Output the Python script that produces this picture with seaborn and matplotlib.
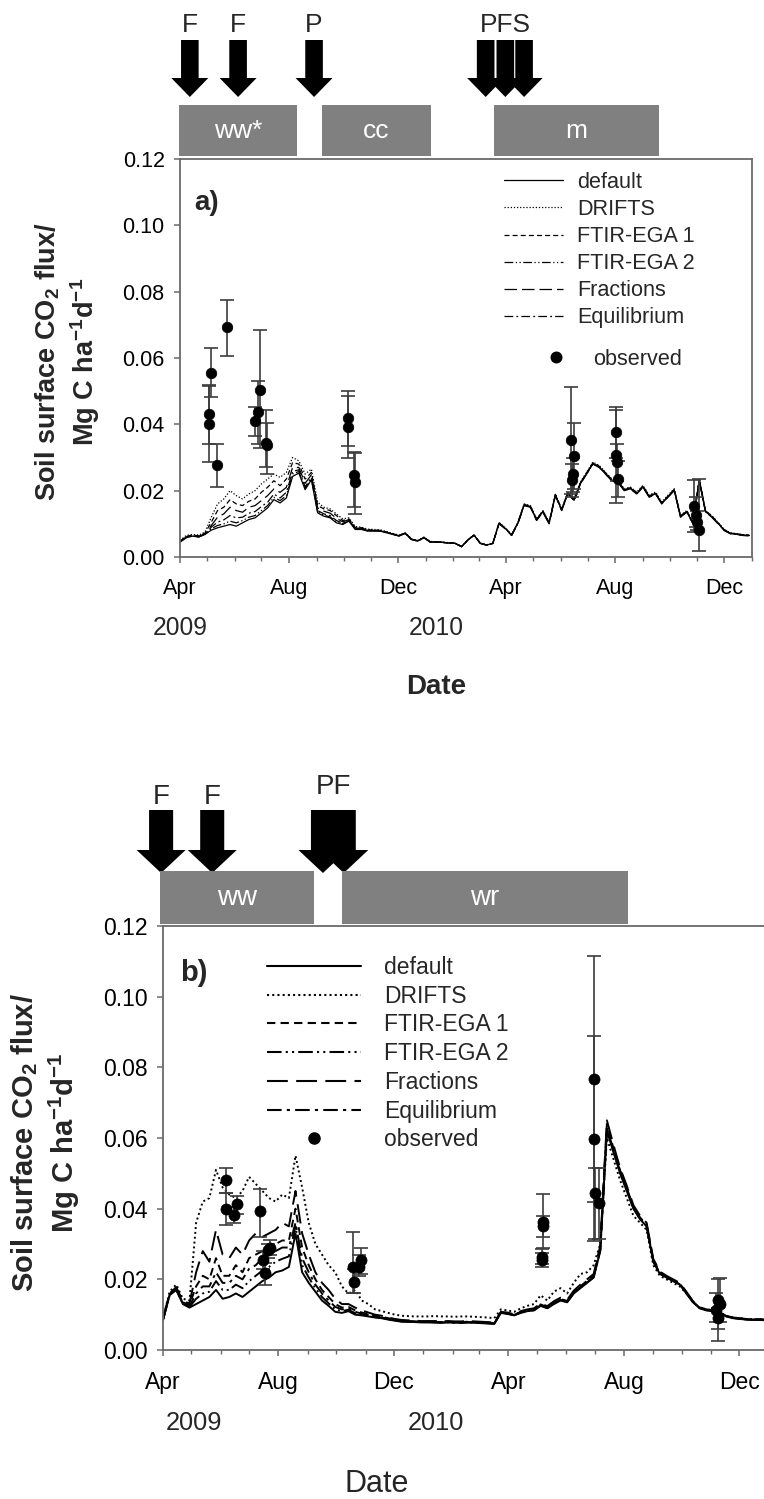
import numpy as np
import pandas as pd
import matplotlib
matplotlib.use("Agg")
import matplotlib.pyplot as plt
import matplotlib.dates as mdates
from matplotlib.patches import Rectangle, FancyArrow
from matplotlib.lines import Line2D
from matplotlib.ticker import FormatStrFormatter
import seaborn as sns

# ---------------------------------------------------------------- data
dates = pd.date_range("2009-04-01", periods=92, freq="7D")
models = ["default", "DRIFTS", "FTIR-EGA 1", "FTIR-EGA 2", "Fractions", "Equilibrium"]

a_default = [0.0045, 0.0058, 0.0063, 0.0060, 0.0068, 0.0081, 0.0088, 0.0093, 0.0098, 0.0093,
             0.0103, 0.0113, 0.0118, 0.0133, 0.0148, 0.0173, 0.0163, 0.0178, 0.0243, 0.0253,
             0.0203, 0.0233, 0.0133, 0.0123, 0.0118, 0.0103, 0.0098, 0.0108, 0.0083, 0.0083,
             0.0078, 0.0078, 0.0078, 0.0073, 0.0068, 0.0063, 0.0071, 0.0053, 0.0048, 0.0058,
             0.0045, 0.0045, 0.0044, 0.0042, 0.0041, 0.0031, 0.0051, 0.0066, 0.0041, 0.0036,
             0.0041, 0.0102, 0.0086, 0.0066, 0.0102, 0.0157, 0.0152, 0.0112, 0.0137, 0.0102,
             0.0187, 0.0142, 0.0192, 0.0172, 0.0222, 0.0252, 0.0282, 0.0272, 0.0252, 0.0232,
             0.0227, 0.0202, 0.0207, 0.0192, 0.0212, 0.0182, 0.0192, 0.0162, 0.0182, 0.0202,
             0.0122, 0.0137, 0.0102, 0.0232, 0.0137, 0.0122, 0.0102, 0.0081, 0.0071, 0.0069,
             0.0066, 0.0065]
a_drifts = [0.0050, 0.0065, 0.0068, 0.0066, 0.0075, 0.0120, 0.0160, 0.0175, 0.0200, 0.0185,
            0.0175, 0.0190, 0.0200, 0.0220, 0.0235, 0.0250, 0.0240, 0.0255, 0.0300, 0.0290,
            0.0250, 0.0265, 0.0165, 0.0150, 0.0145, 0.0130, 0.0115, 0.0118, 0.0092, 0.0090,
            0.0084, 0.0083, 0.0082, 0.0077, 0.0071, 0.0066, 0.0073, 0.0055, 0.0050, 0.0060,
            0.0047, 0.0046, 0.0045, 0.0043, 0.0042, 0.0032, 0.0052, 0.0067, 0.0042, 0.0037,
            0.0042, 0.0104, 0.0088, 0.0068, 0.0104, 0.0160, 0.0155, 0.0115, 0.0140, 0.0105,
            0.0190, 0.0145, 0.0195, 0.0176, 0.0226, 0.0256, 0.0286, 0.0276, 0.0256, 0.0236,
            0.0231, 0.0206, 0.0211, 0.0196, 0.0216, 0.0186, 0.0196, 0.0166, 0.0186, 0.0206,
            0.0125, 0.0140, 0.0105, 0.0236, 0.0140, 0.0125, 0.0104, 0.0083, 0.0073, 0.0070,
            0.0067, 0.0066]
a_ftir1 = [0.0048, 0.0062, 0.0066, 0.0064, 0.0072, 0.0105, 0.0140, 0.0150, 0.0173, 0.0160,
           0.0155, 0.0168, 0.0175, 0.0195, 0.0210, 0.0230, 0.0215, 0.0235, 0.0285, 0.0280,
           0.0235, 0.0255, 0.0155, 0.0145, 0.0140, 0.0125, 0.0110, 0.0115, 0.0089, 0.0088,
           0.0082, 0.0081, 0.0080, 0.0075, 0.0070, 0.0065, 0.0072, 0.0054, 0.0049, 0.0059,
           0.0046, 0.0046, 0.0044, 0.0043, 0.0041, 0.0032, 0.0051, 0.0066, 0.0042, 0.0036,
           0.0041, 0.0103, 0.0087, 0.0067, 0.0103, 0.0158, 0.0154, 0.0114, 0.0139, 0.0104,
           0.0189, 0.0144, 0.0194, 0.0174, 0.0224, 0.0254, 0.0284, 0.0274, 0.0254, 0.0234,
           0.0229, 0.0204, 0.0209, 0.0194, 0.0214, 0.0184, 0.0194, 0.0164, 0.0184, 0.0204,
           0.0124, 0.0139, 0.0104, 0.0234, 0.0139, 0.0124, 0.0103, 0.0082, 0.0072, 0.0070,
           0.0067, 0.0066]
a_ftir2 = [0.0046, 0.0059, 0.0064, 0.0061, 0.0069, 0.0085, 0.0095, 0.0100, 0.0108, 0.0103,
           0.0110, 0.0120, 0.0125, 0.0140, 0.0155, 0.0180, 0.0170, 0.0185, 0.0250, 0.0258,
           0.0207, 0.0236, 0.0136, 0.0126, 0.0121, 0.0106, 0.0100, 0.0110, 0.0085, 0.0085,
           0.0079, 0.0079, 0.0079, 0.0074, 0.0069, 0.0064, 0.0071, 0.0053, 0.0048, 0.0058,
           0.0045, 0.0045, 0.0044, 0.0042, 0.0041, 0.0031, 0.0051, 0.0066, 0.0041, 0.0036,
           0.0041, 0.0102, 0.0086, 0.0066, 0.0102, 0.0157, 0.0152, 0.0112, 0.0137, 0.0102,
           0.0187, 0.0142, 0.0192, 0.0172, 0.0222, 0.0252, 0.0282, 0.0272, 0.0252, 0.0232,
           0.0227, 0.0202, 0.0207, 0.0192, 0.0212, 0.0182, 0.0192, 0.0162, 0.0182, 0.0202,
           0.0122, 0.0137, 0.0102, 0.0232, 0.0137, 0.0122, 0.0102, 0.0081, 0.0071, 0.0069,
           0.0066, 0.0065]
a_fractions = [0.0047, 0.0060, 0.0065, 0.0062, 0.0070, 0.0095, 0.0120, 0.0130, 0.0150, 0.0140,
               0.0135, 0.0150, 0.0155, 0.0170, 0.0185, 0.0205, 0.0195, 0.0210, 0.0270, 0.0270,
               0.0222, 0.0248, 0.0148, 0.0138, 0.0132, 0.0117, 0.0106, 0.0113, 0.0087, 0.0087,
               0.0081, 0.0080, 0.0080, 0.0075, 0.0069, 0.0064, 0.0072, 0.0054, 0.0049, 0.0059,
               0.0046, 0.0045, 0.0044, 0.0043, 0.0041, 0.0031, 0.0051, 0.0066, 0.0041, 0.0036,
               0.0041, 0.0100, 0.0085, 0.0065, 0.0100, 0.0155, 0.0150, 0.0110, 0.0135, 0.0100,
               0.0185, 0.0140, 0.0190, 0.0170, 0.0220, 0.0250, 0.0280, 0.0270, 0.0250, 0.0230,
               0.0225, 0.0200, 0.0205, 0.0190, 0.0210, 0.0180, 0.0190, 0.0160, 0.0180, 0.0200,
               0.0120, 0.0135, 0.0100, 0.0230, 0.0135, 0.0120, 0.0100, 0.0080, 0.0070, 0.0068,
               0.0065, 0.0064]
a_equil = [0.0046, 0.0059, 0.0064, 0.0061, 0.0069, 0.0090, 0.0105, 0.0112, 0.0125, 0.0118,
           0.0120, 0.0132, 0.0137, 0.0152, 0.0165, 0.0190, 0.0178, 0.0195, 0.0258, 0.0263,
           0.0212, 0.0240, 0.0140, 0.0130, 0.0125, 0.0110, 0.0102, 0.0111, 0.0086, 0.0086,
           0.0080, 0.0080, 0.0079, 0.0074, 0.0069, 0.0064, 0.0071, 0.0053, 0.0048, 0.0058,
           0.0045, 0.0045, 0.0044, 0.0042, 0.0041, 0.0031, 0.0051, 0.0066, 0.0041, 0.0036,
           0.0041, 0.0101, 0.0085, 0.0065, 0.0101, 0.0156, 0.0151, 0.0111, 0.0136, 0.0101,
           0.0186, 0.0141, 0.0191, 0.0171, 0.0221, 0.0251, 0.0281, 0.0271, 0.0251, 0.0231,
           0.0226, 0.0201, 0.0206, 0.0191, 0.0211, 0.0181, 0.0191, 0.0161, 0.0181, 0.0201,
           0.0121, 0.0136, 0.0101, 0.0231, 0.0136, 0.0121, 0.0101, 0.0080, 0.0070, 0.0068,
           0.0065, 0.0064]

b_default = [0.0085, 0.0155, 0.0170, 0.0130, 0.0120, 0.0130, 0.0140, 0.0150, 0.0170, 0.0145,
             0.0150, 0.0160, 0.0150, 0.0165, 0.0180, 0.0195, 0.0205, 0.0220, 0.0225, 0.0235,
             0.0330, 0.0220, 0.0190, 0.0165, 0.0140, 0.0125, 0.0108, 0.0105, 0.0110, 0.0100,
             0.0098, 0.0095, 0.0092, 0.0090, 0.0086, 0.0083, 0.0080, 0.0080, 0.0079, 0.0078,
             0.0078, 0.0078, 0.0077, 0.0078, 0.0077, 0.0077, 0.0078, 0.0077, 0.0076, 0.0075,
             0.0074, 0.0105, 0.0102, 0.0098, 0.0105, 0.0110, 0.0112, 0.0125, 0.0118, 0.0130,
             0.0140, 0.0135, 0.0160, 0.0175, 0.0190, 0.0205, 0.0280, 0.0620, 0.0560, 0.0500,
             0.0450, 0.0400, 0.0370, 0.0350, 0.0250, 0.0215, 0.0205, 0.0195, 0.0185, 0.0160,
             0.0135, 0.0118, 0.0112, 0.0110, 0.0105, 0.0095, 0.0090, 0.0088, 0.0086, 0.0085,
             0.0085, 0.0084]
b_drifts = [0.0090, 0.0165, 0.0185, 0.0145, 0.0140, 0.0360, 0.0420, 0.0430, 0.0510, 0.0460,
            0.0440, 0.0430, 0.0450, 0.0490, 0.0470, 0.0450, 0.0430, 0.0420, 0.0440, 0.0430,
            0.0550, 0.0460, 0.0360, 0.0300, 0.0270, 0.0240, 0.0220, 0.0180, 0.0160, 0.0170,
            0.0140, 0.0130, 0.0115, 0.0110, 0.0105, 0.0100, 0.0097, 0.0096, 0.0095, 0.0095,
            0.0095, 0.0096, 0.0095, 0.0095, 0.0094, 0.0095, 0.0095, 0.0094, 0.0093, 0.0092,
            0.0090, 0.0115, 0.0112, 0.0108, 0.0118, 0.0125, 0.0130, 0.0155, 0.0140, 0.0165,
            0.0175, 0.0160, 0.0190, 0.0215, 0.0220, 0.0240, 0.0300, 0.0600, 0.0540, 0.0480,
            0.0430, 0.0380, 0.0360, 0.0340, 0.0240, 0.0210, 0.0200, 0.0190, 0.0180, 0.0160,
            0.0135, 0.0120, 0.0115, 0.0112, 0.0108, 0.0097, 0.0092, 0.0090, 0.0088, 0.0087,
            0.0087, 0.0086]
b_ftir1 = [0.0087, 0.0158, 0.0175, 0.0135, 0.0128, 0.0180, 0.0210, 0.0200, 0.0260, 0.0210,
           0.0210, 0.0240, 0.0220, 0.0260, 0.0270, 0.0280, 0.0290, 0.0300, 0.0310, 0.0310,
           0.0400, 0.0290, 0.0240, 0.0200, 0.0170, 0.0150, 0.0130, 0.0120, 0.0122, 0.0112,
           0.0106, 0.0102, 0.0097, 0.0094, 0.0090, 0.0086, 0.0083, 0.0082, 0.0081, 0.0080,
           0.0080, 0.0080, 0.0079, 0.0080, 0.0079, 0.0079, 0.0080, 0.0079, 0.0078, 0.0077,
           0.0076, 0.0107, 0.0104, 0.0100, 0.0108, 0.0113, 0.0115, 0.0129, 0.0121, 0.0134,
           0.0144, 0.0139, 0.0165, 0.0180, 0.0196, 0.0210, 0.0290, 0.0640, 0.0570, 0.0508,
           0.0458, 0.0405, 0.0375, 0.0355, 0.0255, 0.0219, 0.0208, 0.0198, 0.0188, 0.0163,
           0.0137, 0.0120, 0.0114, 0.0112, 0.0107, 0.0096, 0.0091, 0.0089, 0.0087, 0.0086,
           0.0086, 0.0085]
b_ftir2 = [0.0085, 0.0156, 0.0171, 0.0131, 0.0122, 0.0145, 0.0160, 0.0165, 0.0195, 0.0170,
           0.0170, 0.0185, 0.0175, 0.0195, 0.0210, 0.0225, 0.0235, 0.0250, 0.0258, 0.0265,
           0.0350, 0.0240, 0.0205, 0.0175, 0.0150, 0.0132, 0.0115, 0.0110, 0.0114, 0.0104,
           0.0100, 0.0097, 0.0093, 0.0091, 0.0087, 0.0084, 0.0081, 0.0080, 0.0080, 0.0079,
           0.0079, 0.0078, 0.0078, 0.0078, 0.0078, 0.0077, 0.0078, 0.0078, 0.0077, 0.0076,
           0.0075, 0.0105, 0.0103, 0.0099, 0.0106, 0.0111, 0.0113, 0.0126, 0.0119, 0.0131,
           0.0141, 0.0136, 0.0161, 0.0176, 0.0191, 0.0206, 0.0282, 0.0625, 0.0562, 0.0502,
           0.0452, 0.0402, 0.0372, 0.0351, 0.0251, 0.0216, 0.0206, 0.0196, 0.0186, 0.0161,
           0.0136, 0.0119, 0.0113, 0.0111, 0.0106, 0.0096, 0.0091, 0.0089, 0.0087, 0.0086,
           0.0085, 0.0085]
b_fractions = [0.0088, 0.0160, 0.0178, 0.0138, 0.0132, 0.0220, 0.0280, 0.0250, 0.0340, 0.0270,
               0.0260, 0.0290, 0.0270, 0.0310, 0.0330, 0.0320, 0.0330, 0.0340, 0.0360, 0.0350,
               0.0450, 0.0330, 0.0270, 0.0220, 0.0190, 0.0170, 0.0145, 0.0130, 0.0130, 0.0120,
               0.0112, 0.0106, 0.0100, 0.0097, 0.0092, 0.0088, 0.0085, 0.0084, 0.0083, 0.0082,
               0.0082, 0.0082, 0.0081, 0.0082, 0.0081, 0.0081, 0.0082, 0.0081, 0.0080, 0.0079,
               0.0078, 0.0108, 0.0106, 0.0101, 0.0110, 0.0115, 0.0118, 0.0132, 0.0124, 0.0138,
               0.0148, 0.0142, 0.0168, 0.0185, 0.0200, 0.0215, 0.0295, 0.0650, 0.0580, 0.0515,
               0.0465, 0.0410, 0.0380, 0.0360, 0.0258, 0.0222, 0.0210, 0.0200, 0.0190, 0.0165,
               0.0138, 0.0121, 0.0115, 0.0113, 0.0108, 0.0097, 0.0092, 0.0090, 0.0088, 0.0087,
               0.0087, 0.0086]
b_equil = [0.0086, 0.0157, 0.0173, 0.0133, 0.0125, 0.0160, 0.0180, 0.0180, 0.0220, 0.0190,
           0.0190, 0.0210, 0.0200, 0.0230, 0.0240, 0.0260, 0.0270, 0.0280, 0.0290, 0.0290,
           0.0360, 0.0260, 0.0220, 0.0185, 0.0160, 0.0140, 0.0122, 0.0115, 0.0118, 0.0108,
           0.0103, 0.0099, 0.0095, 0.0092, 0.0088, 0.0085, 0.0082, 0.0081, 0.0080, 0.0079,
           0.0079, 0.0079, 0.0078, 0.0079, 0.0078, 0.0078, 0.0079, 0.0078, 0.0077, 0.0076,
           0.0075, 0.0106, 0.0103, 0.0099, 0.0106, 0.0111, 0.0113, 0.0127, 0.0119, 0.0132,
           0.0142, 0.0137, 0.0162, 0.0178, 0.0193, 0.0208, 0.0285, 0.0630, 0.0565, 0.0505,
           0.0455, 0.0403, 0.0373, 0.0352, 0.0252, 0.0217, 0.0206, 0.0196, 0.0186, 0.0161,
           0.0136, 0.0119, 0.0113, 0.0111, 0.0106, 0.0096, 0.0091, 0.0089, 0.0087, 0.0086,
           0.0086, 0.0085]

# observed (date, mean, lower end of bar, upper end of bar)
a_obs_dates = ["2009-05-04", "2009-05-04", "2009-05-06", "2009-05-12", "2009-05-24",
               "2009-06-24", "2009-06-27", "2009-06-30", "2009-07-06", "2009-07-07",
               "2009-10-06", "2009-10-06", "2009-10-13", "2009-10-14",
               "2010-06-13", "2010-06-16", "2010-06-15", "2010-06-14",
               "2010-08-02", "2010-08-02", "2010-08-03", "2010-08-04",
               "2010-10-28", "2010-10-30", "2010-11-01", "2010-11-03"]
a_obs = [0.0400, 0.0430, 0.0556, 0.0277, 0.0692, 0.0410, 0.0438, 0.0505, 0.0345, 0.0338,
         0.0418, 0.0392, 0.0248, 0.0225,
         0.0353, 0.0305, 0.0249, 0.0232, 0.0378, 0.0308, 0.0287, 0.0235,
         0.0154, 0.0127, 0.0107, 0.0081]
a_obs_lo = [0.0285, 0.0340, 0.0482, 0.0212, 0.0607, 0.0366, 0.0340, 0.0330, 0.0270, 0.0250,
            0.0336, 0.0300, 0.0150, 0.0130,
            0.0190, 0.0205, 0.0195, 0.0180, 0.0300, 0.0162, 0.0230, 0.0180,
            0.0075, 0.0090, 0.0080, 0.0019]
a_obs_hi = [0.0515, 0.0518, 0.0630, 0.0340, 0.0775, 0.0452, 0.0532, 0.0683, 0.0442, 0.0403,
            0.0499, 0.0486, 0.0318, 0.0315,
            0.0513, 0.0405, 0.0300, 0.0280, 0.0453, 0.0443, 0.0340, 0.0290,
            0.0232, 0.0180, 0.0140, 0.0234]

b_obs_dates = ["2009-06-07", "2009-06-07", "2009-06-15", "2009-06-18", "2009-07-13",
               "2009-07-16", "2009-07-18", "2009-07-21", "2009-07-23",
               "2009-10-19", "2009-10-20", "2009-10-25", "2009-10-27",
               "2010-05-07", "2010-05-07", "2010-05-06", "2010-05-06",
               "2010-06-30", "2010-06-30", "2010-07-01", "2010-07-06",
               "2010-11-08", "2010-11-10", "2010-11-06", "2010-11-08"]
b_obs = [0.0481, 0.0400, 0.0383, 0.0412, 0.0394, 0.0255, 0.0217, 0.0282, 0.0290,
         0.0235, 0.0193, 0.0235, 0.0255,
         0.0363, 0.0350, 0.0264, 0.0254,
         0.0767, 0.0598, 0.0445, 0.0417,
         0.0141, 0.0131, 0.0112, 0.0090]
b_obs_lo = [0.0445, 0.0355, 0.0360, 0.0385, 0.0320, 0.0228, 0.0185, 0.0260, 0.0270,
            0.0160, 0.0160, 0.0210, 0.0215,
            0.0290, 0.0320, 0.0243, 0.0235,
            0.0420, 0.0308, 0.0315, 0.0315,
            0.0026, 0.0080, 0.0080, 0.0060]
b_obs_hi = [0.0515, 0.0445, 0.0405, 0.0435, 0.0455, 0.0280, 0.0245, 0.0300, 0.0310,
            0.0334, 0.0230, 0.0270, 0.0290,
            0.0442, 0.0380, 0.0285, 0.0275,
            0.1115, 0.0888, 0.0515, 0.0515,
            0.0200, 0.0204, 0.0160, 0.0120]

# management events and crop periods
a_event_labels = ["F", "F", "P", "PFS"]
a_event_dates = [["2009-04-12"], ["2009-06-05"], ["2009-08-29"],
                 ["2010-03-09", "2010-03-31", "2010-04-21"]]
a_crops = ["ww*", "cc", "m"]
a_crop_start = ["2009-03-31", "2009-09-07", "2010-03-18"]
a_crop_end = ["2009-08-10", "2010-01-07", "2010-09-19"]

b_event_labels = ["F", "F", "PF"]
b_event_dates = [["2009-03-30"], ["2009-05-23"], ["2009-09-17", "2009-10-09"]]
b_crops = ["ww", "wr"]
b_crop_start = ["2009-03-29", "2009-10-07"]
b_crop_end = ["2009-09-08", "2010-08-05"]

yticks = [0.00, 0.02, 0.04, 0.06, 0.08, 0.10, 0.12]

# ---------------------------------------------------------------- style
sns.set_style("ticks")
plt.rcParams['font.family'] = ['Liberation Sans', 'DejaVu Sans']
plt.rcParams['mathtext.fontset'] = 'custom'
plt.rcParams['mathtext.rm'] = 'Liberation Sans'
plt.rcParams['mathtext.bf'] = 'Liberation Sans:bold'
plt.rcParams['mathtext.it'] = 'Liberation Sans:italic'

W, H = 764, 1499
fig = plt.figure(figsize=(W / 100, H / 100), dpi=100)


def fx(x):
    return x / W


def fy(y):
    return 1 - y / H


SPINE = '#6a6a6a'
linestyles = {"default": "-",
              "DRIFTS": (0, (1, 1.5)),
              "FTIR-EGA 1": (0, (4, 2.5)),
              "FTIR-EGA 2": (0, (7, 2, 1, 2, 1, 2)),
              "Fractions": (0, (10, 4)),
              "Equilibrium": (0, (7, 2.5, 1.5, 2.5))}

panels = {
    "a": dict(series=[a_default, a_drifts, a_ftir1, a_ftir2, a_fractions, a_equil],
              obs=(a_obs_dates, a_obs, a_obs_lo, a_obs_hi),
              rect=(180, 159, 752, 557), xlim=("2009-04-01", "2011-01-01"), lw=0.9,
              ticksize=15.5, ms=7.6, xpad=11),
    "b": dict(series=[b_default, b_drifts, b_ftir1, b_ftir2, b_fractions, b_equil],
              obs=(b_obs_dates, b_obs, b_obs_lo, b_obs_hi),
              rect=(163, 926, 764, 1350), xlim=("2009-04-01", "2010-12-27"), lw=1.4,
              ticksize=16.5, ms=8, xpad=11),
}

axes = {}
for key, p in panels.items():
    l, t, r, b = p["rect"]
    ax = fig.add_axes([fx(l), fy(b), (r - l) / W, (b - t) / H])
    axes[key] = ax
    for name, vals in zip(models, p["series"]):
        df = pd.DataFrame({"date": dates, "flux": vals})
        sns.lineplot(data=df, x="date", y="flux", ax=ax, color="black",
                     linewidth=p["lw"], linestyle=linestyles[name],
                     estimator=None, errorbar=None, sort=False, legend=False)
    od, ov, olo, ohi = p["obs"]
    od = pd.to_datetime(od)
    ov = np.array(ov)
    ax.errorbar(od, ov, yerr=[ov - np.array(olo), np.array(ohi) - ov], fmt='none',
                ecolor='#3c3c3c', elinewidth=1.2, capsize=5, capthick=1.2, zorder=4)
    sns.scatterplot(x=od, y=ov, ax=ax, color="black", s=p["ms"] ** 2,
                    edgecolor="black", linewidth=0.5, zorder=5, legend=False)

    ax.set_xlim(pd.Timestamp(p["xlim"][0]), pd.Timestamp(p["xlim"][1]))
    ax.set_ylim(0, 0.12)
    ax.set_yticks(yticks)
    ax.yaxis.set_major_formatter(FormatStrFormatter('%.2f'))
    ax.xaxis.set_major_locator(mdates.MonthLocator(bymonth=[4, 8, 12]))
    ax.xaxis.set_major_formatter(mdates.DateFormatter('%b'))
    ax.xaxis.set_minor_locator(mdates.MonthLocator())
    ax.set_xlabel("")
    ax.set_ylabel("")
    for s in ax.spines.values():
        s.set_color(SPINE)
        s.set_linewidth(1.3)
    ax.tick_params(axis='both', which='major', direction='out', length=4, width=1.1,
                   color=SPINE, labelsize=p["ticksize"], labelcolor='black')
    ax.tick_params(axis='x', which='major', pad=p["xpad"])
    ax.tick_params(axis='y', which='major', pad=7)
    ax.tick_params(axis='x', which='minor', direction='out', length=3, width=1.0,
                   color=SPINE)

axes["b"].spines['right'].set_visible(False)

# ---------------------------------------------------------------- legends
ha = [Line2D([], [], color='black', lw=0.9, linestyle=linestyles[m]) for m in models]
leg1 = axes["a"].legend(ha, models, loc='upper left', bbox_to_anchor=(fx(504), fy(172)),
                        bbox_transform=fig.transFigure, frameon=False, fontsize=15.6,
                        handlelength=2.72, handletextpad=0.65, labelspacing=0.28,
                        borderpad=0, borderaxespad=0)
axes["a"].add_artist(leg1)
axes["a"].legend([Line2D([], [], ls='none', marker='o', color='black', ms=7.6)], ["observed"],
                 loc='upper left', bbox_to_anchor=(fx(540), fy(349)),
                 bbox_transform=fig.transFigure, frameon=False, fontsize=15.6,
                 handlelength=1.5, handletextpad=0.94, borderpad=0, borderaxespad=0)

hb = [Line2D([], [], color='black', lw=1.5, linestyle=linestyles[m]) for m in models]
hb.append(Line2D([], [], ls='none', marker='o', color='black', ms=8))
axes["b"].legend(hb, models + ["observed"], loc='upper left',
                 bbox_to_anchor=(fx(267), fy(956)), bbox_transform=fig.transFigure,
                 frameon=False, fontsize=16.5, handlelength=4.08, handletextpad=1.03,
                 labelspacing=0.25, borderpad=0, borderaxespad=0)

# ---------------------------------------------------------------- management strips
def strip(key, top, labels, ev_dates, crops, cstart, cend, geo, fs):
    ax = axes[key]
    l, t, r, b = panels[key]["rect"]
    sa = fig.add_axes([fx(l), fy(t), (r - l) / W, (t - top) / H])
    sa.set_xlim(ax.get_xlim())
    sa.set_ylim(t, top)
    sa.axis('off')
    for lab, dl in zip(labels, ev_dates):
        xs = [mdates.date2num(pd.Timestamp(d)) for d in dl]
        for x in xs:
            sa.add_patch(FancyArrow(x, geo["shaft_top"], 0, geo["tip"] - geo["shaft_top"],
                                    width=geo["w"], head_width=geo["hw"],
                                    head_length=geo["tip"] - geo["head"],
                                    length_includes_head=True, color='black', lw=0,
                                    clip_on=False))
        ly = geo["lab_y"] if len(xs) == 1 else geo["lab_y2"]
        sa.text(np.mean(xs), ly, lab, ha='center', va='center', fontsize=fs,
                clip_on=False)
    for c, s0, s1 in zip(crops, cstart, cend):
        x0 = mdates.date2num(pd.Timestamp(s0))
        x1 = mdates.date2num(pd.Timestamp(s1))
        sa.add_patch(Rectangle((x0, geo["box_top"]), x1 - x0, geo["box_bot"] - geo["box_top"],
                               fc='#808080', ec='none', clip_on=False))
        sa.text((x0 + x1) / 2, (geo["box_top"] + geo["box_bot"]) / 2, c, color='white',
                ha='center', va='center', fontsize=fs, clip_on=False)


strip("a", 0, a_event_labels, a_event_dates, a_crops, a_crop_start, a_crop_end,
      dict(shaft_top=40, head=78, tip=97, w=19.7, hw=41.4, lab_y=25, lab_y2=25,
           box_top=105, box_bot=156), 19)
strip("b", 760, b_event_labels, b_event_dates, b_crops, b_crop_start, b_crop_end,
      dict(shaft_top=810, head=850, tip=873, w=25.4, hw=51.8, lab_y=797, lab_y2=787,
           box_top=871, box_bot=924), 20)

# ---------------------------------------------------------------- text
ylab = "Soil surface CO$_\\mathbf{2}$ flux/\nMg C ha$^\\mathbf{-1}$d$^\\mathbf{-1}$"
fig.text(fx(68), fy(362), ylab, rotation=90, ha='center', va='center', fontsize=19.5,
         fontweight='bold', multialignment='center', linespacing=1.25)
fig.text(fx(46), fy(1143), ylab, rotation=90, ha='center', va='center', fontsize=21,
         fontweight='bold', multialignment='center', linespacing=1.25)

fig.text(fx(207), fy(203), "a)", ha='center', va='center', fontsize=20, fontweight='bold')
fig.text(fx(194), fy(973), "b)", ha='center', va='center', fontsize=21, fontweight='bold')

fig.text(fx(180), fy(628), "2009", ha='center', va='center', fontsize=17.7)
fig.text(fx(436), fy(628), "2010", ha='center', va='center', fontsize=17.7)
fig.text(fx(436), fy(687), "Date", ha='center', va='center', fontsize=20, fontweight='bold')

fig.text(fx(194), fy(1423), "2009", ha='center', va='center', fontsize=18.3)
fig.text(fx(436), fy(1423), "2010", ha='center', va='center', fontsize=18.3)
fig.text(fx(377), fy(1484), "Date", ha='center', va='center', fontsize=22)

fig.savefig("out.png", dpi=100)
